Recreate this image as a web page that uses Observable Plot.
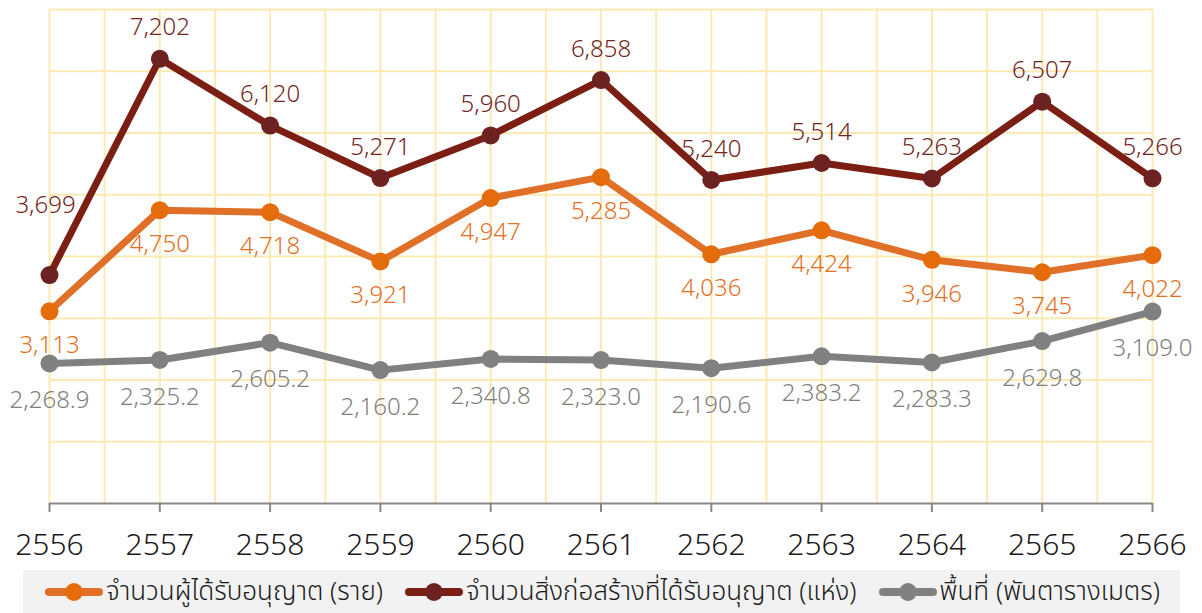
<!DOCTYPE html>
<html>
<head>
<meta charset="utf-8">
<script src="https://cdn.jsdelivr.net/npm/d3@7"></script>
<script src="https://cdn.jsdelivr.net/npm/@observablehq/plot@0.6"></script>
<style>
  body { margin: 0; background: #fff; font-family: "Noto Sans Thai", "Noto Sans", sans-serif; }
  #wrap { position: relative; width: 1202px; }
  #legend { margin-left: 23px; width: 1157px; height: 43px; background: #f2f2f2; display: flex; align-items: center; gap: 22px; padding-left: 22px; box-sizing: border-box; font-size: 26px; font-weight: 300; color: #1a1a1a; }
  .item { display: flex; align-items: center; white-space: nowrap; }
  .item svg { margin-right: 3px; }
</style>
</head>
<body>
<div id="wrap">
  <div id="chart"></div>
  <div id="legend"></div>
</div>
<script>
const years = [2556, 2557, 2558, 2559, 2560, 2561, 2562, 2563, 2564, 2565, 2566];
const applicants = [3113, 4750, 4718, 3921, 4947, 5285, 4036, 4424, 3946, 3745, 4022];
const buildings = [3699, 7202, 6120, 5271, 5960, 6858, 5240, 5514, 5263, 6507, 5266];
const area = [2268.9, 2325.2, 2605.2, 2160.2, 2340.8, 2323.0, 2190.6, 2383.2, 2283.3, 2629.8, 3109.0];
const seriesNames = ["จำนวนผู้ได้รับอนุญาต (ราย)", "จำนวนสิ่งก่อสร้างที่ได้รับอนุญาต (แห่ง)", "พื้นที่ (พันตารางเมตร)"];
const yTicks = [0, 1000, 2000, 3000, 4000, 5000, 6000, 7000, 8000];
const xGrid = d3.range(2556, 2566.01, 0.5);

const lineColors = ["#e07028", "#7b1f14", "#808080"];
const dotColors = ["#e46c0a", "#6b2220", "#808080"];
const textColors = ["#e3701e", "#74261f", "#7f7f7f"];

const rows = (vals) => years.map((y, i) => ({ year: y, value: vals[i], i }));
const A = rows(applicants), B = rows(buildings), C = rows(area);
const fmtInt = d3.format(",");
const fmtDec = d3.format(",.1f");
const lab = { fontSize: 24, fontWeight: 300 };

const chart = Plot.plot({
  width: 1202,
  height: 570,
  marginLeft: 49,
  marginRight: 50,
  marginTop: 9,
  marginBottom: 67,
  style: { fontFamily: '"Noto Sans Thai", "Noto Sans", sans-serif', background: "#fff" },
  x: { domain: [2556, 2566], label: null },
  y: { domain: [0, 8000], axis: null },
  marks: [
    Plot.ruleX(xGrid, { x: d => d, y1: 0, y2: 8000, stroke: "#fdeab3", strokeWidth: 2 }),
    Plot.ruleY(yTicks.filter(d => d > 0), { y: d => d, x1: 2556, x2: 2566, stroke: "#fdeab3", strokeWidth: 2 }),
    Plot.ruleY([0], { x1: 2556, x2: 2566, stroke: "#888", strokeWidth: 2 }),
    Plot.axisX({ ticks: years, tickFormat: d => String(d), label: null, tickSize: 9, tickPadding: 21, fontSize: 30, fontWeight: 300, stroke: "#888", strokeWidth: 2, fill: "#1a1a1a" }),
    // gray series
    Plot.line(C, { x: "year", y: "value", stroke: lineColors[2], strokeWidth: 7 }),
    Plot.dot(C, { x: "year", y: "value", r: 9, fill: dotColors[2] }),
    Plot.text(C, { x: "year", y: "value", text: d => fmtDec(d.value), dy: 37, fill: textColors[2], ...lab }),
    // orange series
    Plot.line(A, { x: "year", y: "value", stroke: lineColors[0], strokeWidth: 7 }),
    Plot.dot(A, { x: "year", y: "value", r: 9, fill: dotColors[0] }),
    Plot.text(A, { x: "year", y: "value", text: d => fmtInt(d.value), fill: textColors[0], dy: 34, ...lab }),
    // dark red series
    Plot.line(B, { x: "year", y: "value", stroke: lineColors[1], strokeWidth: 7 }),
    Plot.dot(B, { x: "year", y: "value", r: 9, fill: dotColors[1] }),
    Plot.text(B.slice(1), { x: "year", y: "value", text: d => fmtInt(d.value), dy: -31, fill: textColors[1], ...lab }),
    Plot.text(B.slice(0, 1), { x: "year", y: "value", text: d => fmtInt(d.value), dy: -70, dx: -4, fill: textColors[1], ...lab })
  ]
});
document.getElementById("chart").appendChild(chart);

const legend = document.getElementById("legend");
seriesNames.forEach((name, k) => {
  const item = document.createElement("div");
  item.className = "item";
  item.innerHTML = `<svg width="58" height="24"><line x1="4" y1="12" x2="54" y2="12" stroke="${lineColors[k]}" stroke-width="8" stroke-linecap="round"/><circle cx="29" cy="12" r="9" fill="${dotColors[k]}"/></svg><span>${name}</span>`;
  legend.appendChild(item);
});
</script>
</body>
</html>
